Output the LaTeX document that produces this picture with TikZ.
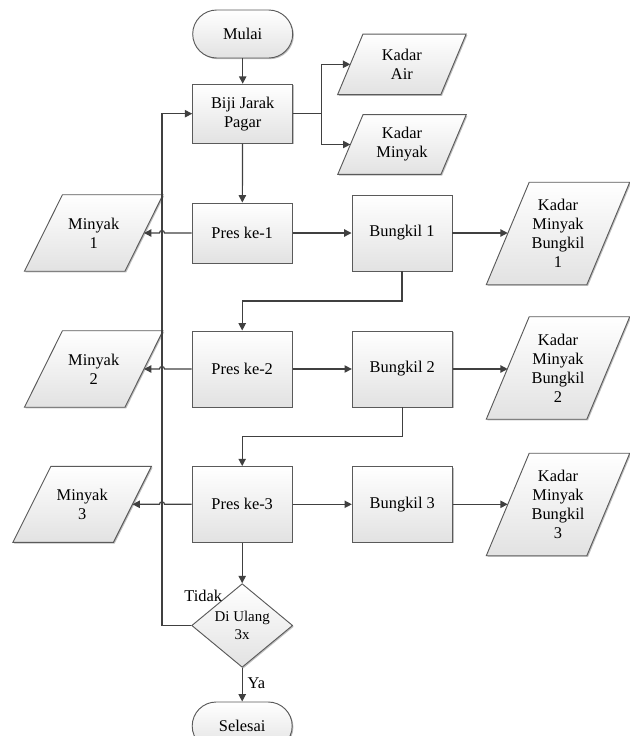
\documentclass[tikz,border=0pt]{standalone}
\usepackage{fontspec}
\setmainfont{Liberation Serif}
\usetikzlibrary{arrows.meta,shapes.geometric,shadows,backgrounds,calc}
\definecolor{linec}{HTML}{404040}
\definecolor{bordc}{HTML}{5A5A5A}
\definecolor{fillc}{HTML}{E2E2E2}
\newcommand{\fsmain}{\fontsize{12.3}{14.3}\selectfont}
\newcommand{\fsdia}{\fontsize{11.2}{13.5}\selectfont}
\begin{document}
\begin{tikzpicture}[x=0.75pt,y=-0.75pt,
 shadowed/.style={drop shadow={shadow xshift=0.9pt,shadow yshift=-0.9pt,opacity=0.25,fill=black}},
 shapebase/.style={draw=bordc, line width=0.7pt, top color=white, bottom color=fillc, shadowed, font=\fsmain, align=center, inner sep=0pt},
 procbox/.style={shapebase, rectangle, minimum width=75pt, minimum height=#1},
 termbox/.style={shapebase, rectangle, rounded corners=18pt, minimum width=75pt, minimum height=36pt},
 decbox/.style={shapebase, diamond, font=\fsdia, minimum width=75.75pt, minimum height=55.5pt},
 iotext/.style={rectangle, font=\fsmain, align=center, inner sep=0pt, minimum width=#1},
 iobox/.style={draw=bordc, line width=0.7pt, top color=white, bottom color=fillc, shadowed},
 arr/.style={draw=linec, line width=0.9pt, -{Triangle[length=5.5pt,width=5.5pt]}},
 lbl/.style={font=\fsmain, inner sep=0pt},
]
\useasboundingbox (0,0) rectangle (629,736);

% process nodes
\node[termbox] (mulai) at (242.7,34) {Mulai};
\node[procbox=44.25pt] (biji) at (242.7,113.7) {Biji Jarak\\Pagar};
\node[procbox=45pt] (p1) at (242.2,233) {Pres ke-1};
\node[procbox=57pt] (b1) at (402,233) {Bungkil 1};
\node[procbox=57pt] (p2) at (242.2,369) {Pres ke-2};
\node[procbox=57pt] (b2) at (402.3,369) {Bungkil 2};
\node[procbox=56.6pt] (p3) at (242.2,504.3) {Pres ke-3};
\node[procbox=56.6pt] (b3) at (402.3,504.3) {Bungkil 3};
\node[decbox] (dec) at (242.2,625.5) {Di Ulang\\3x};
\node[termbox] (selesai) at (242.2,726) {Selesai};

% input/output text nodes
\node[iotext=77pt, minimum height=45pt] (ka) at (401.9,64.3) {Kadar\\Air};
\node[iotext=77pt, minimum height=44.5pt] (km) at (402,144.5) {Kadar\\Minyak};
\node[iotext=75pt, minimum height=57pt] (m1) at (93.7,233) {Minyak\\1};
\node[iotext=75pt, minimum height=57pt] (m2) at (93.7,369) {Minyak\\2};
\node[iotext=75pt, minimum height=56.6pt] (m3) at (82.2,504.3) {Minyak\\3};
\node[iotext=75pt, minimum height=76.5pt] (k1) at (558,233.5) {Kadar\\Minyak\\Bungkil\\1};
\node[iotext=75pt, minimum height=76.5pt] (k2) at (558,368) {Kadar\\Minyak\\Bungkil\\2};
\node[iotext=75pt, minimum height=76.5pt] (k3) at (558,504.5) {Kadar\\Minyak\\Bungkil\\3};

\begin{scope}[on background layer]
\foreach \n/\s in {ka/9.5pt, km/9.5pt, m1/14.25pt, m2/14.25pt, m3/14.25pt, k1/16.1pt, k2/16.1pt, k3/16.1pt}
  \path[iobox] ([xshift=\s]\n.north west) -- ([xshift=\s]\n.north east) -- ([xshift=-\s]\n.south east) -- ([xshift=-\s]\n.south west) -- cycle;
\end{scope}

% labels
\node[lbl] (tidak) at (203.3,596) {Tidak};
\node[lbl, anchor=west] (ya) at (247.3,683) {Ya};

% helper coordinates
\coordinate (lx) at (162,0);
\coordinate (bx) at (321.7,0);

% connectors
\draw[arr] (mulai) -- (biji);
\draw[arr] (biji.east) -- (biji.east -| bx) |- (ka.west);
\draw[arr] (biji.east -| bx) |- (km.west);
\draw[arr] (biji) -- (p1);

\draw[arr] (p1.east) -- (b1.west);
\draw[arr] (b1.east) -- (b1.east -| k1.west);
\draw[arr] (b1.south) |- ($(b1.south)!.5!(p2.north)$) -| (p2.north);
\draw[arr] (p2.east) -- (b2.west);
\draw[arr] (b2.east) -- (b2.east -| k2.west);
\draw[arr] (b2.south) |- ($(b2.south)!.5!(p3.north)$) -| (p3.north);
\draw[arr] (p3.east) -- (b3.west);
\draw[arr] (b3.east) -- (b3.east -| k3.west);

\draw[arr] (p1.west) -- ($(p1.west -| lx)+(2.5,0)$) arc[start angle=0,end angle=-180,radius=2.5] -- (m1.east);
\draw[arr] (p2.west) -- ($(p2.west -| lx)+(2.5,0)$) arc[start angle=0,end angle=-180,radius=2.5] -- (m2.east);
\draw[arr] (p3.west) -- ($(p3.west -| lx)+(2.5,0)$) arc[start angle=0,end angle=-180,radius=2.5] -- (m3.east);

\draw[arr] (p3.south) -- (dec.north);
\draw[arr] (dec.south) -- (selesai.north);
\draw[arr] (dec.west) -- (dec.west -| lx) -- (lx |- biji.west) -- (biji.west);
\end{tikzpicture}
\end{document}
